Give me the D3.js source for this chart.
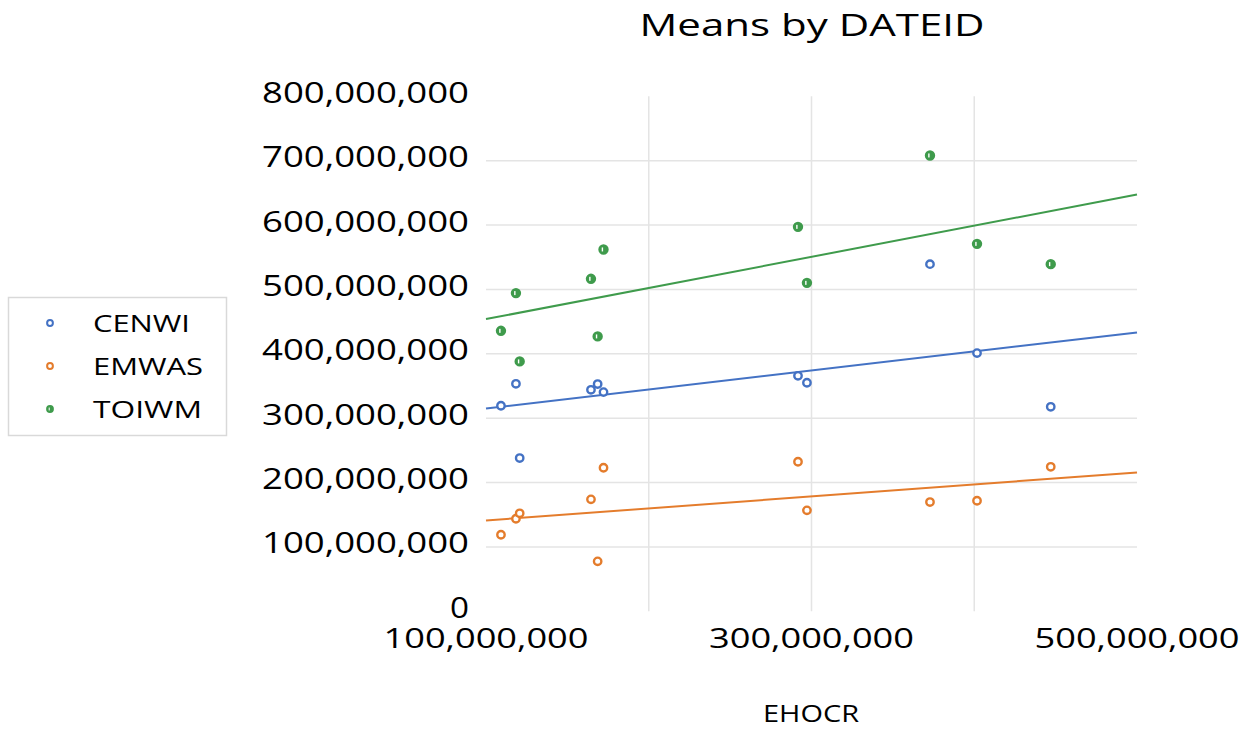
<!DOCTYPE html>
<html>
<head>
<meta charset="utf-8">
<script src="https://cdn.jsdelivr.net/npm/d3@7"></script>
<style>
  html, body { margin: 0; padding: 0; background: #fff; }
  svg { display: block; }
  text { font-family: "Open Sans", "Noto Sans", sans-serif; fill: #000; }
</style>
</head>
<body>
<svg id="chart" width="1256" height="729"></svg>
<script>
// Means by DATEID: three series plotted against EHOCR, each with a linear trendline
const ehocr = [109.2e6, 118.4e6, 120.7e6, 164.5e6, 168.6e6, 172.2e6, 291.7e6, 297.2e6, 372.8e6, 401.7e6, 447.0e6];
const cenwi = [319.3e6, 353.4e6, 238.0e6, 344.1e6, 353.0e6, 340.5e6, 365.8e6, 355.0e6, 539.3e6, 401.1e6, 317.7e6];
const emwas = [118.9e6, 143.8e6, 152.2e6, 173.9e6, 77.6e6, 223.0e6, 232.3e6, 156.8e6, 169.7e6, 171.7e6, 224.5e6];
const toiwm = [435.7e6, 494.3e6, 388.2e6, 516.5e6, 427.0e6, 562.1e6, 597.2e6, 510.2e6, 708.1e6, 570.8e6, 539.3e6];

const seriesNames = ["CENWI", "EMWAS", "TOIWM"];
const seriesColors = ["#4472C4", "#E47C2C", "#3F9B4C"];
const yTicks = [0, 100e6, 200e6, 300e6, 400e6, 500e6, 600e6, 700e6, 800e6];
const yGridTicks = [100e6, 200e6, 300e6, 400e6, 500e6, 600e6, 700e6];
const xLabelTicks = [100e6, 300e6, 500e6];
const xGridTicks = [200e6, 300e6, 400e6];

const series = [cenwi, emwas, toiwm].map((vals, i) => ({
  name: seriesNames[i],
  color: seriesColors[i],
  points: vals.map((v, j) => ({ x: ehocr[j], y: v }))
}));

const svg = d3.select("#chart");
svg.append("rect").attr("width", 1256).attr("height", 729).attr("fill", "#fff");

const x = d3.scaleLinear().domain([100e6, 500e6]).range([486, 1137]);
const y = d3.scaleLinear().domain([0, 800e6]).range([611.3, 96.3]);
const fmt = d3.format(",");

// gridlines
svg.append("g").selectAll("line").data(yGridTicks).join("line")
  .attr("x1", x(100e6)).attr("x2", x(500e6))
  .attr("y1", d => y(d)).attr("y2", d => y(d))
  .attr("stroke", "#e4e4e4").attr("stroke-width", 1.5);
svg.append("g").selectAll("line").data(xGridTicks).join("line")
  .attr("x1", d => x(d)).attr("x2", d => x(d))
  .attr("y1", y(800e6)).attr("y2", y(0))
  .attr("stroke", "#e4e4e4").attr("stroke-width", 1.5);

// y-axis labels
svg.append("g").selectAll("text").data(yTicks).join("text")
  .attr("x", 469).attr("y", d => y(d) + 6.5)
  .attr("text-anchor", "end")
  .attr("font-size", 30)
  .attr("font-weight", 500)
  .attr("textLength", d => d === 0 ? 19 : 207)
  .attr("lengthAdjust", "spacingAndGlyphs")
  .text(d => fmt(d));

// x-axis labels
svg.append("g").selectAll("text").data(xLabelTicks).join("text")
  .attr("x", d => x(d)).attr("y", 648)
  .attr("text-anchor", "middle")
  .attr("font-size", 28)
  .attr("font-weight", 500)
  .attr("textLength", 205)
  .attr("lengthAdjust", "spacingAndGlyphs")
  .text(d => fmt(d));

// title and axis title
svg.append("text").attr("x", 812).attr("y", 36).attr("text-anchor", "middle")
  .attr("font-size", 31).attr("font-weight", 500)
  .attr("textLength", 345).attr("lengthAdjust", "spacingAndGlyphs")
  .text("Means by DATEID");
svg.append("text").attr("x", 811).attr("y", 722).attr("text-anchor", "middle")
  .attr("font-size", 24).attr("textLength", 96).attr("lengthAdjust", "spacingAndGlyphs")
  .text("EHOCR");

// least-squares trendline over the full x domain
function fit(points) {
  const mx = d3.mean(points, p => p.x), my = d3.mean(points, p => p.y);
  const sxy = d3.sum(points, p => (p.x - mx) * (p.y - my));
  const sxx = d3.sum(points, p => (p.x - mx) ** 2);
  const b = sxy / sxx, a = my - b * mx;
  return x.domain().map(v => ({ x: v, y: a + b * v }));
}
const line = d3.line().x(d => x(d.x)).y(d => y(d.y));
svg.append("g").selectAll("path").data(series).join("path")
  .attr("d", s => line(fit(s.points)))
  .attr("fill", "none").attr("stroke", s => s.color).attr("stroke-width", 2);

// markers
function drawMarker(g, color, isFilled, r, sw) {
  g.append("circle").attr("r", r)
    .attr("fill", isFilled ? color : "#fff")
    .attr("stroke", color).attr("stroke-width", sw);
  if (isFilled) {
    g.append("rect").attr("x", -r * 0.45).attr("y", -r * 0.5)
      .attr("width", r * 0.35).attr("height", r).attr("fill", "#fff");
  }
}
series.forEach((s, i) => {
  svg.append("g").selectAll("g").data(s.points).join("g")
    .attr("transform", d => `translate(${x(d.x)},${y(d.y)})`)
    .each(function () { drawMarker(d3.select(this), s.color, i === 2, i === 2 ? 4 : 3.7, 2.4); });
});

// legend
const legend = svg.append("g");
legend.append("rect").attr("x", 8.5).attr("y", 297.5).attr("width", 218).attr("height", 138)
  .attr("fill", "#fff").attr("stroke", "#d9d9d9").attr("stroke-width", 1.5);
const legendWidths = [97, 110, 109];
series.forEach((s, i) => {
  const cy = 323 + i * 43;
  const m = legend.append("g").attr("transform", `translate(50,${cy})`);
  drawMarker(m, s.color, i === 2, 2.9, 2);
  legend.append("text").attr("x", 93).attr("y", cy + 8.5)
    .attr("font-size", 24).attr("font-weight", 500)
    .attr("textLength", legendWidths[i]).attr("lengthAdjust", "spacingAndGlyphs")
    .text(s.name);
});
</script>
</body>
</html>
